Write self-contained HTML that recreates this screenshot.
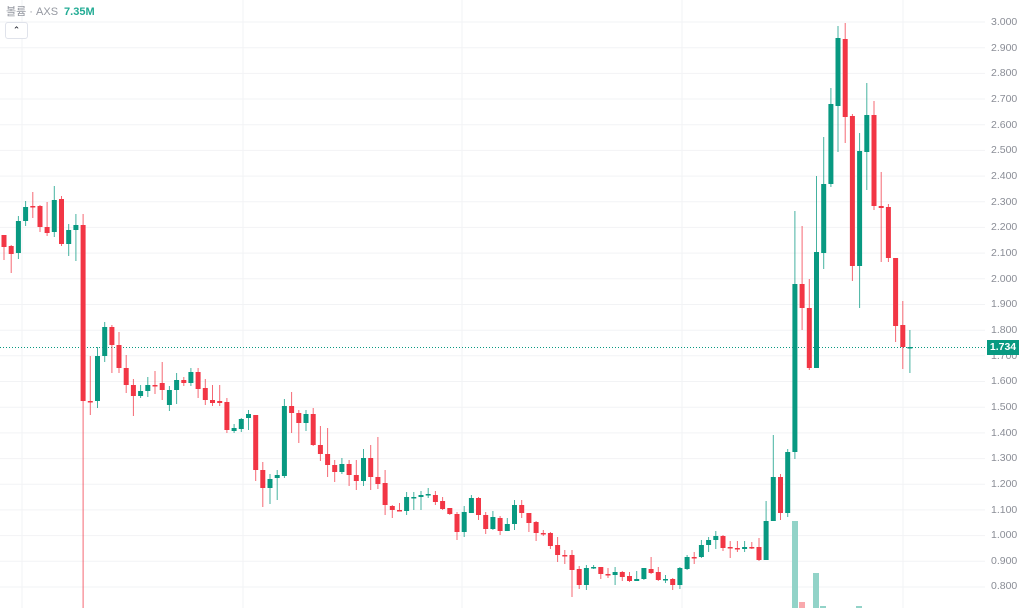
<!DOCTYPE html>
<html><head><meta charset="utf-8"><style>
html,body{margin:0;padding:0;background:#fff;width:1024px;height:608px;overflow:hidden;font-family:"Liberation Sans","Noto Sans CJK KR",sans-serif}
#hdr{position:absolute;left:6px;top:3px;font-size:11px;color:#9598a1}
#hdr b{color:#22ab94;font-weight:bold;margin-left:6px}
#btn{position:absolute;left:5px;top:22px;width:21px;height:15px;border:1px solid #e0e3eb;border-radius:3px;background:#fff;font-size:9px;text-align:center;line-height:15px;color:#131722}
.pl{position:absolute;left:991px;font-size:10.5px;color:#8a8d96}
#tag{position:absolute;left:987px;top:340px;width:32px;height:15px;background:#089981;color:#fff;font-size:10.5px;font-weight:bold;text-align:center;line-height:15px}
</style></head><body>
<svg id="s" width="1024" height="608" style="position:absolute;left:0;top:0"></svg>
<div id="hdr">볼륨 · AXS<b>7.35M</b></div>
<div id="btn">&#8963;</div>
<div class="pl" style="top:16px">3.000</div>
<div class="pl" style="top:42px">2.900</div>
<div class="pl" style="top:67px">2.800</div>
<div class="pl" style="top:93px">2.700</div>
<div class="pl" style="top:119px">2.600</div>
<div class="pl" style="top:144px">2.500</div>
<div class="pl" style="top:170px">2.400</div>
<div class="pl" style="top:196px">2.300</div>
<div class="pl" style="top:221px">2.200</div>
<div class="pl" style="top:247px">2.100</div>
<div class="pl" style="top:273px">2.000</div>
<div class="pl" style="top:298px">1.900</div>
<div class="pl" style="top:324px">1.800</div>
<div class="pl" style="top:350px">1.700</div>
<div class="pl" style="top:375px">1.600</div>
<div class="pl" style="top:401px">1.500</div>
<div class="pl" style="top:427px">1.400</div>
<div class="pl" style="top:452px">1.300</div>
<div class="pl" style="top:478px">1.200</div>
<div class="pl" style="top:504px">1.100</div>
<div class="pl" style="top:529px">1.000</div>
<div class="pl" style="top:555px">0.900</div>
<div class="pl" style="top:580px">0.800</div>
<div id="tag">1.734</div>
<script>
var s=document.getElementById('s'),h='';
for(var k=0;k<23;k++){var y=22+k*25.68;h+='<line x1="0" x2="985" y1="'+y.toFixed(1)+'" y2="'+y.toFixed(1)+'" stroke="#f2f3f5"/>';}
[22,243,462,682,903].forEach(function(x){h+='<line x1="'+x+'" x2="'+x+'" y1="0" y2="608" stroke="#f2f3f5"/>';});
h+='<line x1="0" x2="986" y1="347.5" y2="347.5" stroke="#089981" stroke-dasharray="1,2"/>';
// volume
[[792,521,'g'],[799,602,'r'],[813,573,'g'],[820,606,'g'],[856,606,'g']].forEach(function(v){h+='<rect x="'+v[0]+'" y="'+v[1]+'" width="6" height="'+(608-v[1])+'" fill="'+(v[2]=='g'?'#92d3c8':'#f9a9ad')+'"/>';});
var d=[
[235,246,233,248,'g'],
[235,247,235,260,'r'],[246,254,245,273,'r'],[253,221,216,259,'g'],[221,207,201,226,'g'],[206,207,192,218,'r'],[206,227,205,232,'r'],[227,233,202,236,'r'],[232,200,186,237,'g'],[199,244,196,246,'r'],[244,230,224,256,'g'],
[230,225,214,261,'g'],[225,401,214,608,'r'],[401,401,356,415,'r'],[401,356,347,408,'g'],[356,327,322,362,'g'],[327,345,325,373,'r'],[345,368,332,373,'r'],[368,385,355,393,'r'],[385,396,379,416,'r'],[396,391,385,398,'g'],
[391,385,377,397,'g'],[385,385,371,394,'r'],[383,390,362,400,'r'],[405,390,386,411,'g'],[390,380,373,404,'g'],[380,383,377,386,'r'],[383,372,368,386,'g'],[372,389,368,398,'r'],[388,400,379,405,'r'],[400,403,385,406,'r'],
[401,403,385,406,'r'],[402,430,398,433,'r'],[431,428,424,433,'g'],[429,419,418,432,'g'],[418,414,410,430,'g'],[415,470,415,481,'r'],[470,488,462,507,'r'],[488,479,474,504,'g'],[478,475,470,500,'g'],[476,406,399,478,'g'],
[406,413,392,433,'r'],[413,423,410,443,'r'],[423,414,410,431,'g'],[414,445,408,446,'r'],[445,454,426,461,'r'],[454,465,428,477,'r'],[465,472,460,482,'r'],[472,464,458,474,'g'],[464,475,460,486,'r'],[475,481,460,490,'r'],
[481,458,449,486,'g'],[458,477,445,490,'r'],[477,484,437,489,'r'],[483,505,470,515,'r'],[506,510,505,518,'r'],[510,511,503,511,'r'],[511,497,492,515,'g'],[497,497,492,510,'g'],[497,495,491,510,'g'],[495,494,488,498,'g'],
[495,502,491,505,'r'],[501,509,497,510,'r'],[508,514,508,515,'r'],[514,532,512,540,'r'],[532,512,506,537,'g'],[513,498,495,513,'g'],[498,515,497,520,'r'],[515,529,512,534,'r'],[529,517,511,530,'g'],[518,531,516,535,'r'],
[531,524,518,531,'g'],[524,505,500,530,'g'],[505,513,500,518,'r'],[513,523,513,532,'r'],[522,533,521,541,'r'],[533,534,530,536,'r'],[533,546,532,549,'r'],[545,555,537,562,'r'],[555,556,550,564,'r'],[555,570,550,597,'r'],
[569,585,566,589,'r'],[585,568,565,590,'g'],[567,567,565,569,'g'],[567,574,568,579,'r'],[574,575,568,578,'r'],[575,572,567,585,'g'],[572,577,571,581,'r'],[576,581,572,582,'r'],[581,579,571,581,'g'],[579,568,568,580,'g'],
[569,573,557,574,'r'],[572,580,567,581,'r'],[579,579,575,583,'g'],[579,585,578,590,'r'],[585,568,567,589,'g'],[569,557,555,570,'g'],[557,557,552,564,'r'],[557,545,540,558,'g'],[545,540,537,552,'g'],[540,536,531,549,'g'],
[536,548,535,551,'r'],[547,548,541,558,'r'],[548,549,541,552,'r'],[549,547,541,552,'g'],[547,548,542,549,'r'],[547,560,538,561,'r'],[560,521,501,560,'g'],[521,477,435,521,'g'],[477,513,474,520,'r'],[513,452,449,517,'g'],
[452,284,211,459,'g'],[284,308,226,330,'r'],[308,368,279,370,'r'],[368,252,176,368,'g'],[253,184,137,269,'g'],[184,104,88,187,'g'],[106,38,26,152,'g'],[39,117,23,143,'r'],[116,266,114,281,'r'],[266,151,133,308,'g'],
[152,115,83,190,'g'],[115,206,101,210,'r'],[206,208,172,262,'r'],[207,258,204,262,'r'],[258,326,258,342,'r'],[325,347,301,369,'r'],[347,347,330,373,'g']];
for(var i=0;i<d.length;i++){var c=d[i],x=4+7.19*(i-1),col=c[4]=='g'?'#089981':'#f23645';
var t=Math.min(c[0],c[1]),b=Math.max(c[0],c[1]),bh=Math.max(b-t,1.5);
h+='<line x1="'+x.toFixed(1)+'" x2="'+x.toFixed(1)+'" y1="'+c[2]+'" y2="'+c[3]+'" stroke="'+col+'" stroke-width="1" opacity="0.75"/>';
h+='<rect x="'+(x-2.5).toFixed(1)+'" y="'+t+'" width="5" height="'+bh+'" fill="'+col+'"/>';}
s.innerHTML=h;
</script>
</body></html>
